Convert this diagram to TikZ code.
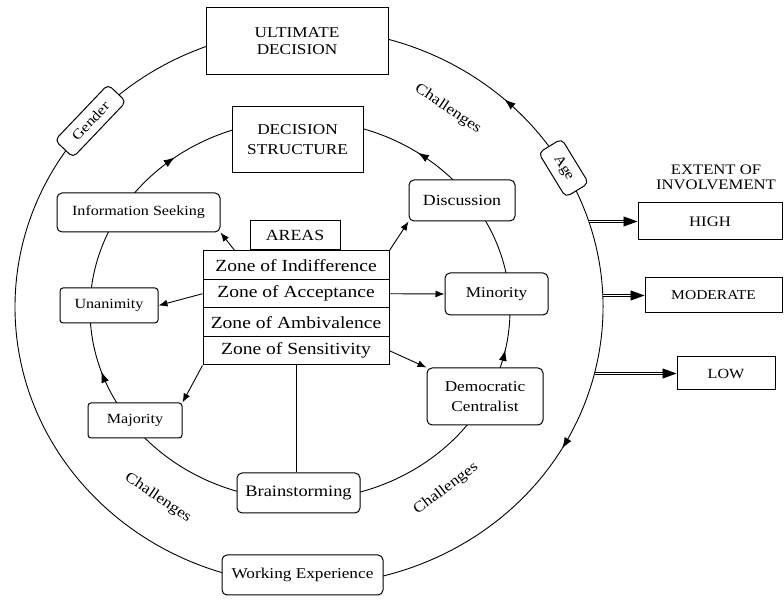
\documentclass[tikz,border=0pt]{standalone}
\usepackage{fontspec}
\setmainfont{Liberation Serif}[FakeStretch=1.15]
\usetikzlibrary{arrows.meta,calc,decorations.markings}
\begin{document}
\begin{tikzpicture}[x=1pt,y=1pt,
  line width=0.9pt,
  sqbox/.style={draw, line width=1pt, fill=white, align=center, inner sep=0pt, font=\fontsize{15}{17}\selectfont},
  rbox/.style={sqbox, rounded corners=5pt},
  zonebox/.style={draw, line width=1pt, fill=white, minimum width=186pt, minimum height=28.5pt, inner sep=0pt, font=\fontsize{17}{19}\selectfont},
  arr/.style={-{Latex[length=9pt,width=7pt]}},
  lbl/.style={font=\fontsize{15}{17}\selectfont},
  onemark/.style={postaction={decorate}, decoration={markings, mark=at position #1 with {\arrow{Latex[length=11pt,width=8pt]}}}},
  twomarks/.style 2 args={postaction={decorate}, decoration={markings, mark=at position #1 with {\arrow{Latex[length=11pt,width=8pt]}}, mark=at position #2 with {\arrow{Latex[length=11pt,width=8pt]}}}},
  dbl/.style={double, double distance=1.6pt, line width=0.9pt},
  bigtip/.style={-{Triangle[length=14pt,width=10pt]}, line width=0.9pt}
]
\useasboundingbox (0,0) rectangle (784,601);
\coordinate (oc) at (309,294);
\coordinate (ic) at (300,291);

% outer ellipse
\draw[onemark=0.3] ($(oc)+(30:294 and 278)$) arc[start angle=30, end angle=90, x radius=294, y radius=278];
\draw[onemark=0.496] ($(oc)+(30:294 and 278)$) arc[start angle=30, end angle=-90, x radius=294, y radius=278];
\draw ($(oc)+(90:294 and 278)$) arc[start angle=90, end angle=270, x radius=294, y radius=278];
% inner ellipse
\draw[twomarks={0.436}{0.803}] ($(ic)+(-90:210 and 190)$) arc[start angle=-90, end angle=90, x radius=210, y radius=190];
\draw[twomarks={0.4}{0.789}] ($(ic)+(270:210 and 190)$) arc[start angle=270, end angle=90, x radius=210, y radius=190];

% outer nodes
\node[sqbox, minimum width=182pt, minimum height=67pt] (ud) at (297,559.5) {ULTIMATE\\DECISION};
\node[rbox, minimum width=161pt, minimum height=40pt] (we) at (302.5,26) {Working Experience};
\node[rbox, rotate=46.4, minimum width=77pt, minimum height=25pt, font=\fontsize{14}{16}\selectfont] (gender) at ($(oc)+(138:294 and 278)$) {Gender};
\node[rbox, rotate=-58.6, minimum width=52pt, minimum height=27pt, font=\fontsize{14}{16}\selectfont] (age) at ($(oc)+(30:294 and 278)$) {Age};

% inner nodes
\node[sqbox, minimum width=131pt, minimum height=66pt, font=\fontsize{15}{20}\selectfont] (ds) at (297.5,461) {DECISION\\STRUCTURE};
\node[rbox, minimum width=163pt, minimum height=39pt, font=\fontsize{14}{16}\selectfont] (is) at (138.5,388.5) {Information Seeking};
\node[rbox, minimum width=106pt, minimum height=41pt, font=\fontsize{15.5}{17}\selectfont] (disc) at (462,400.5) {Discussion};
\node[rbox, minimum width=103pt, minimum height=42pt] (minr) at (496.5,307) {Minority};
\node[rbox, rounded corners=3pt, minimum width=98pt, minimum height=35pt, font=\fontsize{14}{16}\selectfont] (unan) at (109,295.5) {Unanimity};
\node[rbox, minimum width=116pt, minimum height=57pt, font=\fontsize{15}{20}\selectfont] (dc) at (485,204.5) {Democratic\\Centralist};
\node[rbox, rounded corners=3pt, minimum width=94pt, minimum height=35pt, font=\fontsize{14}{16}\selectfont] (maj) at (135,180.5) {Majority};
\node[rbox, minimum width=123pt, minimum height=40pt, font=\fontsize{16}{18}\selectfont] (brain) at (298.5,108) {Brainstorming};

% areas table
\node[zonebox] (z1) at (296,335.75) {Zone of Indifference};
\node[zonebox] (z2) at (296,307.25) {Zone of Acceptance};
\node[zonebox] (z3) at (296,278.75) {Zone of Ambivalence};
\node[zonebox] (z4) at (296,250.25) {Zone of Sensitivity};
\node[sqbox, anchor=south, minimum width=90pt, minimum height=29pt, font=\fontsize{15.5}{17}\selectfont] (areas) at ($(z1.north)+(-1,0)$) {AREAS};

% center connectors
\coordinate (z1a) at ($(z1.north west)!0.172!(z1.north east)$);
\draw[arr] (z1a) -- (is.south east);
\draw[arr] (z1.north east) -- (disc.south west);
\draw[arr] (z2.east) -- (minr.west);
\draw[arr] (z2.west) -- (unan.east);
\draw[arr] (z4.south west) -- (maj.north east);
\draw[arr] (z4.east) -- (dc.north west);
\draw (z4.south) -- (z4.south |- brain.north);

% extent of involvement
\node[align=center, font=\fontsize{14.5}{15}\selectfont] (ext) at (716,424) {EXTENT OF\\INVOLVEMENT};
\node[sqbox, minimum width=144pt, minimum height=37pt, font=\fontsize{14.5}{16}\selectfont] (high) at (710,379.5) {HIGH};
\node[sqbox, minimum width=137pt, minimum height=35pt, font=\fontsize{13.5}{15}\selectfont] (mod) at (713.5,305.5) {MODERATE};
\node[sqbox, minimum width=98pt, minimum height=33pt, font=\fontsize{14}{16}\selectfont] (low) at (726,227.5) {LOW};
\coordinate (h0) at (588.7,379.5);
\coordinate (m0) at (602.7,305.5);
\coordinate (l0) at (594.5,227.5);
\draw[dbl] (h0) -- ($(high.west)+(-13,0)$);
\draw[bigtip] ($(high.west)+(-14,0)$) -- (high.west);
\draw[dbl] (m0) -- ($(mod.west)+(-13,0)$);
\draw[bigtip] ($(mod.west)+(-14,0)$) -- (mod.west);
\draw[dbl] (l0) -- ($(low.west)+(-13,0)$);
\draw[bigtip] ($(low.west)+(-14,0)$) -- (low.west);

% challenges labels
\node[lbl, rotate=-34] (ch1) at (448,492) {Challenges};
\node[lbl, rotate=-34] (ch2) at (158,103) {Challenges};
\node[lbl, rotate=37] (ch3) at (446,112) {Challenges};
\end{tikzpicture}
\end{document}
